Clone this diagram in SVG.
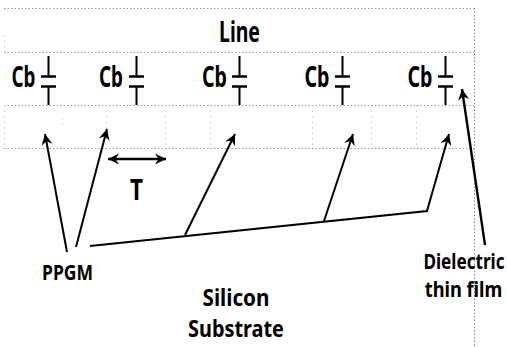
<svg xmlns="http://www.w3.org/2000/svg" width="507" height="347" viewBox="0 0 507 347">
<defs>
<marker id="ah" markerUnits="userSpaceOnUse" markerWidth="14" markerHeight="14" refX="12" refY="6" orient="auto" viewBox="0 0 14 12"><path d="M12 6L1 0.500L4.500 6L1 11.500Z" fill="#000"/></marker>
<marker id="ar" markerUnits="userSpaceOnUse" markerWidth="14" markerHeight="14" refX="2" refY="6" orient="auto" viewBox="0 0 14 12"><path d="M2 6L13 0.500L9.500 6L13 11.500Z" fill="#000"/></marker>
</defs>
<style>
text{font-family:"Noto Sans","Open Sans","Liberation Sans",sans-serif;font-weight:700;fill:#000;text-anchor:middle}
.d{fill:none;stroke:#999;stroke-width:1;stroke-dasharray:1.500 2}
.r{fill:none;stroke:#888;stroke-width:1;stroke-dasharray:1.500 2}
.l{fill:none;stroke:#ccc;stroke-width:1;stroke-dasharray:1.500 4}
.w{fill:none;stroke:#000;stroke-width:2.500}
.c{fill:none;stroke:#000;stroke-width:2}
.a{fill:none;stroke:#000;stroke-width:2;marker-end:url(#ah)}
.cb{font-size:28px}
</style>
<g id="layers">
<path class="d" d="M4 8.500H474M4 52.500H474M4 105.500H474M4 148.500H474"/>
<path class="r" d="M474.500 8V347"/>
<path class="l" d="M4.500 35V52M4.500 105V148M62.500 118V128M106.500 105V148M165.500 105V148M210.500 105V148M312.500 105V148M371.500 105V148M416.500 105V148"/>
</g>
<g id="line-label"><text x="239.500" y="42" font-size="28" textLength="41" lengthAdjust="spacingAndGlyphs">Line</text></g>
<g id="cap1"><text class="cb" x="23.500" y="87" textLength="24" lengthAdjust="spacingAndGlyphs">Cb</text><path class="w" d="M41 76.500H56M41 86.500H56"/><path class="c" d="M48.500 56V76M48.500 86V105"/></g>
<g id="cap2"><text class="cb" x="111" y="87" textLength="24" lengthAdjust="spacingAndGlyphs">Cb</text><path class="w" d="M129 76.500H144M129 86.500H144"/><path class="c" d="M136.500 56V76M136.500 86V105"/></g>
<g id="cap3"><text class="cb" x="214.500" y="87" textLength="25" lengthAdjust="spacingAndGlyphs">Cb</text><path class="w" d="M232 76.500H247M232 86.500H247"/><path class="c" d="M239.500 56V76M239.500 86V105"/></g>
<g id="cap4"><text class="cb" x="317" y="87" textLength="25" lengthAdjust="spacingAndGlyphs">Cb</text><path class="w" d="M335 76.500H350M335 86.500H350"/><path class="c" d="M342.500 56V76M342.500 86V105"/></g>
<g id="cap5"><text class="cb" x="420" y="87" textLength="25" lengthAdjust="spacingAndGlyphs">Cb</text><path class="w" d="M438 76.500H453M438 86.500H453"/><path class="c" d="M445.500 56V76M445.500 86V105"/></g>
<g id="connectors">
<path class="a" d="M67 252L45 134"/>
<path class="a" d="M76 247L107 129"/>
<path class="a" d="M185 235L235 134"/>
<path class="a" d="M324 221L353 134"/>
<path class="a" d="M90 246L427 211L449 134"/>
<path class="a" style="stroke-width:2.400" d="M485 245L462 89"/>
<path class="a" style="stroke-width:2.400;marker-start:url(#ar)" d="M108 159H166"/>
</g>
<g id="t-label"><text x="136.500" y="200" font-size="28" textLength="13" lengthAdjust="spacingAndGlyphs">T</text></g>
<g id="ppgm"><text x="67.500" y="280" font-size="22" textLength="51" lengthAdjust="spacingAndGlyphs">PPGM</text></g>
<g id="silicon"><text x="236" y="306" font-size="24" textLength="67" lengthAdjust="spacingAndGlyphs">Silicon</text><text x="236" y="337" font-size="24" textLength="96" lengthAdjust="spacingAndGlyphs">Substrate</text></g>
<g id="dielectric"><text transform="translate(464 269) scale(0.78 1)" font-size="22">Dielectric</text><text transform="translate(463.500 297) scale(0.83 1)" font-size="22">thin film</text></g>
</svg>
